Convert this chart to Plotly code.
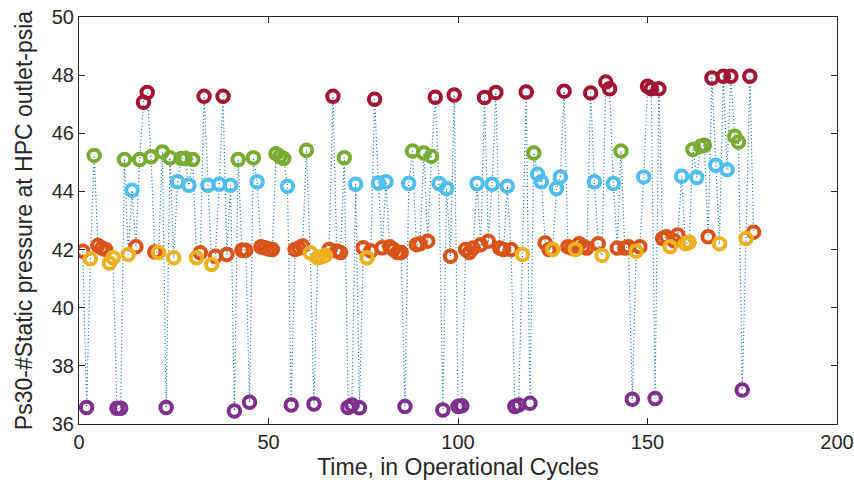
import plotly.graph_objects as go

# Operating-regime groups: cycle numbers and Ps30 values
purple_cycles = [2, 10, 11, 23, 41, 45, 56, 62, 71, 72, 74, 86, 96, 100, 101, 115, 116, 119, 146, 152, 175]
purple_values = [36.57, 36.54, 36.54, 36.57, 36.45, 36.75, 36.65, 36.69, 36.57, 36.65, 36.56, 36.6, 36.48,
                 36.6, 36.63, 36.6, 36.65, 36.71, 36.85, 36.88, 37.17]

red_cycles = [17, 18, 33, 38, 67, 78, 94, 99, 107, 110, 118, 128, 135, 139, 140, 150, 151, 153, 167, 170, 172, 177]
red_values = [47.07, 47.4, 47.27, 47.27, 47.27, 47.17, 47.24, 47.32, 47.23, 47.4, 47.42, 47.45, 47.39,
              47.76, 47.53, 47.62, 47.53, 47.53, 47.9, 47.96, 47.96, 47.96]

green_cycles = [4, 12, 16, 19, 22, 24, 27, 28, 30, 42, 46, 52, 53, 54, 60, 70, 88, 91, 93, 120, 143,
                162, 164, 165, 173, 174]
green_values = [45.24, 45.1, 45.1, 45.19, 45.36, 45.16, 45.13, 45.14, 45.1, 45.1, 45.16, 45.3, 45.2,
                45.13, 45.42, 45.16, 45.39, 45.32, 45.21, 45.32, 45.39, 45.44, 45.55, 45.59, 45.9, 45.7]

blue_cycles = [14, 26, 29, 34, 37, 40, 47, 55, 73, 79, 81, 87, 95, 97, 105, 109, 113, 121, 122, 126,
               127, 136, 141, 149, 159, 163, 168, 171]
blue_values = [44.04, 44.33, 44.21, 44.21, 44.25, 44.21, 44.33, 44.18, 44.25, 44.29, 44.33, 44.27,
               44.27, 44.1, 44.27, 44.25, 44.18, 44.59, 44.33, 44.1, 44.5, 44.33, 44.27, 44.5, 44.52,
               44.48, 44.9, 44.75]

orange_cycles = [1, 5, 6, 7, 15, 20, 32, 36, 39, 43, 44, 48, 49, 50, 51, 57, 58, 59, 66, 68, 69, 75,
                 77, 80, 82, 83, 84, 85, 89, 90, 92, 98, 102, 103, 104, 106, 108, 111, 112, 114, 123,
                 124, 129, 130, 132, 133, 134, 137, 142, 144, 145, 148, 154, 155, 157, 158, 166, 178]
orange_values = [41.94, 42.14, 42.05, 42.0, 42.1, 41.92, 41.89, 41.77, 41.83, 41.98, 41.98, 42.1,
                 42.06, 42.02, 42.0, 42.0, 42.05, 42.12, 42.0, 41.95, 41.9, 42.06, 41.95, 42.06,
                 42.1, 42.0, 41.9, 41.9, 42.17, 42.2, 42.29, 41.77, 42.0, 41.9, 42.05, 42.17, 42.29,
                 42.05, 42.0, 42.0, 42.23, 42.0, 42.1, 42.05, 42.2, 42.1, 42.05, 42.2, 42.05, 42.05,
                 42.1, 42.1, 42.38, 42.44, 42.3, 42.5, 42.44, 42.6]

yellow_cycles = [3, 8, 9, 13, 21, 25, 31, 35, 61, 63, 64, 65, 76, 117, 125, 131, 138, 147, 156, 160,
                 161, 169, 176]
yellow_values = [41.68, 41.54, 41.72, 41.83, 41.9, 41.72, 41.72, 41.49, 41.89, 41.72, 41.75, 41.8,
                 41.72, 41.83, 42.0, 42.0, 41.8, 41.94, 42.1, 42.2, 42.25, 42.2, 42.38]

x_ticks = [0, 50, 100, 150, 200]
y_ticks = [36, 38, 40, 42, 44, 46, 48, 50]

groups = [
    (orange_cycles, orange_values, "#D95319"),
    (yellow_cycles, yellow_values, "#EDB120"),
    (purple_cycles, purple_values, "#7E2F8E"),
    (green_cycles, green_values, "#77AC30"),
    (blue_cycles, blue_values, "#4DBEEE"),
    (red_cycles, red_values, "#A2142F"),
]

# full sequence for the connecting dotted line
pairs = []
for cyc, val, _ in groups:
    pairs.extend(zip(cyc, val))
pairs.sort()
all_x = [p[0] for p in pairs]
all_y = [p[1] for p in pairs]

fig = go.Figure()
fig.add_trace(go.Scatter(x=all_x, y=all_y, mode="lines",
                         line=dict(color="#0072BD", width=1.2, dash="1px,2.5px"),
                         showlegend=False, hoverinfo="skip"))
for cyc, val, col in groups:
    fig.add_trace(go.Scatter(x=cyc, y=val, mode="markers",
                             marker=dict(symbol="circle-open", size=11.5, color=col,
                                         line=dict(width=4, color=col)),
                             showlegend=False))

axis_common = dict(showline=True, linecolor="#262626", linewidth=1, mirror="ticks",
                   ticks="inside", ticklen=6, tickcolor="#262626", showgrid=False,
                   zeroline=False, automargin=False,
                   tickfont=dict(family="Liberation Sans", size=20, color="#262626"))

fig.update_layout(
    width=854, height=492,
    margin=dict(l=79, r=17, t=17, b=68),
    paper_bgcolor="white", plot_bgcolor="white",
    xaxis=dict(range=[0, 200], tickvals=x_ticks,
               title=dict(text="Time, in Operational Cycles", standoff=6,
                          font=dict(family="Liberation Sans", size=23, color="#262626")),
               **axis_common),
    yaxis=dict(range=[36, 50], tickvals=y_ticks,
               title=dict(text="Ps30-#Static pressure at HPC outlet-psia", standoff=12,
                          font=dict(family="Liberation Sans", size=23, color="#262626")),
               **axis_common),
)

fig.write_html("out.html")
